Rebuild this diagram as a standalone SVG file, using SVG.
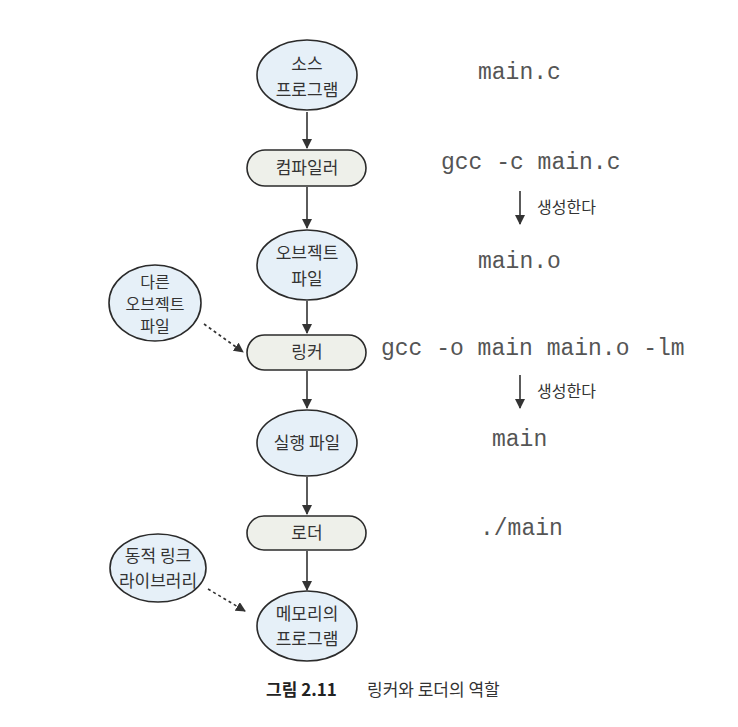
<svg xmlns="http://www.w3.org/2000/svg" width="738" height="727" viewBox="0 0 738 727">
<style>
.ell{fill:#e6f0f8;stroke:#2b2b2b;stroke-width:1.6}
.pill{fill:#eef0ea;stroke:#2b2b2b;stroke-width:1.6}
.kt{font-family:"Noto Sans CJK KR","Noto Sans",sans-serif;font-size:17px;fill:#333;text-anchor:middle}
.ks{font-size:16px}
.mono{font-family:"Liberation Mono","Courier New",monospace;font-size:23px;fill:#555}
.gen{font-family:"Noto Sans CJK KR",sans-serif;font-size:16px;fill:#333}
.ln{stroke:#333;stroke-width:1.6;fill:none}
.dot{stroke:#333;stroke-width:1.6;fill:none;stroke-dasharray:3 3}
</style>
<defs>
<marker id="ah" viewBox="0 0 10 10" refX="9" refY="5" markerWidth="10" markerHeight="10" markerUnits="userSpaceOnUse" orient="auto">
<path d="M0,0 L10,5 L0,10 z" fill="#333"/>
</marker>
</defs>
<rect width="738" height="727" fill="#fff"/>
<g id="connectors">
<line class="ln" x1="307" y1="112" x2="307" y2="148" marker-end="url(#ah)"/>
<line class="ln" x1="307" y1="187" x2="307" y2="228" marker-end="url(#ah)"/>
<line class="ln" x1="307" y1="301" x2="307" y2="333" marker-end="url(#ah)"/>
<line class="ln" x1="307" y1="371" x2="307" y2="408" marker-end="url(#ah)"/>
<line class="ln" x1="307" y1="477" x2="307" y2="514" marker-end="url(#ah)"/>
<line class="ln" x1="307" y1="551" x2="307" y2="590" marker-end="url(#ah)"/>
<line class="dot" x1="204" y1="324" x2="243" y2="352" marker-end="url(#ah)"/>
<line class="dot" x1="208" y1="589" x2="245" y2="611" marker-end="url(#ah)"/>
<line class="ln" x1="520" y1="191" x2="520" y2="224" marker-end="url(#ah)"/>
<line class="ln" x1="520" y1="375" x2="520" y2="408" marker-end="url(#ah)"/>
</g>
<g id="n_source">
<ellipse class="ell" cx="307" cy="75" rx="50" ry="35"/>
<text class="kt" x="307" y="70">소스</text>
<text class="kt" x="307" y="96">프로그램</text>
</g>
<g id="n_compiler">
<rect class="pill" x="247" y="150" width="119" height="36" rx="18"/>
<text class="kt" x="307" y="174">컴파일러</text>
</g>
<g id="n_object">
<ellipse class="ell" cx="307" cy="265" rx="50" ry="35"/>
<text class="kt" x="307" y="259">오브젝트</text>
<text class="kt" x="307" y="285">파일</text>
</g>
<g id="n_other">
<ellipse class="ell" cx="155" cy="303" rx="46" ry="38"/>
<text class="kt ks" x="155" y="288">다른</text>
<text class="kt ks" x="155" y="310">오브젝트</text>
<text class="kt ks" x="155" y="332">파일</text>
</g>
<g id="n_linker">
<rect class="pill" x="247" y="335" width="119" height="35" rx="17.5"/>
<text class="kt" x="307" y="358">링커</text>
</g>
<g id="n_exec">
<ellipse class="ell" cx="307" cy="443" rx="50" ry="33"/>
<text class="kt" x="307" y="449">실행 파일</text>
</g>
<g id="n_loader">
<rect class="pill" x="247" y="516" width="119" height="34" rx="17"/>
<text class="kt" x="307" y="539">로더</text>
</g>
<g id="n_dynlib">
<ellipse class="ell" cx="158" cy="568" rx="48" ry="34"/>
<text class="kt" x="158" y="562">동적 링크</text>
<text class="kt" x="158" y="587">라이브러리</text>
</g>
<g id="n_mem">
<ellipse class="ell" cx="307" cy="626" rx="50" ry="35"/>
<text class="kt" x="307" y="620">메모리의</text>
<text class="kt" x="307" y="645">프로그램</text>
</g>
<g id="labels">
<text class="mono" x="478" y="79">main.c</text>
<text class="mono" x="441" y="169">gcc -c main.c</text>
<text class="gen" x="537" y="213">생성한다</text>
<text class="mono" x="478" y="268">main.o</text>
<text class="mono" x="381" y="355">gcc -o main main.o -lm</text>
<text class="gen" x="537" y="397">생성한다</text>
<text class="mono" x="492" y="446">main</text>
<text class="mono" x="480" y="535">./main</text>
</g>
<g id="caption">
<text x="266" y="696" style="font-family:'Noto Sans CJK KR',sans-serif;font-size:17px;font-weight:bold;fill:#222">그림 2.11</text>
<text x="367" y="696" style="font-family:'Noto Sans CJK KR',sans-serif;font-size:17px;fill:#333">링커와 로더의 역할</text>
</g>
</svg>
